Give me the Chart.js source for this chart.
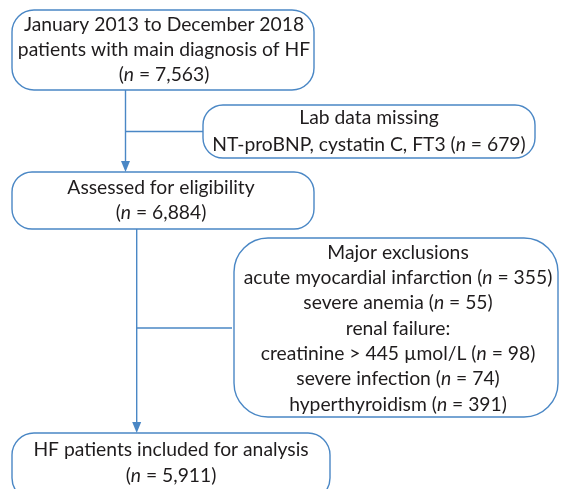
<!DOCTYPE html>
<html>
<head>
<meta charset="utf-8">
<script src="https://cdn.jsdelivr.net/npm/chart.js@4.4.0/dist/chart.umd.min.js"></script>
<style>
    html, body { margin: 0; padding: 0; background: #fff; }
    #wrap { width: 562px; height: 489px; }
</style>
</head>
<body>
<div id="wrap"><canvas id="chart"></canvas></div>
<script>
// box texts (*n* = italic n)
var startText = ['January 2013 to December 2018', 'patients with main diagnosis of HF', '(*n* = 7,563)'];
var missingText = ['Lab data missing', 'NT-proBNP, cystatin C, FT3 (*n* = 679)'];
var assessedText = ['Assessed for eligibility', '(*n* = 6,884)'];
var exclusionText = [
    'Major exclusions',
    'acute myocardial infarction (*n* = 355)',
    'severe anemia (*n* = 55)',
    'renal failure:',
    'creatinine > 445 \u00b5mol/L (*n* = 98)',
    'severe infection (*n* = 74)',
    'hyperthyroidism (*n* = 391)'
];
var includedText = ['HF patients included for analysis', '(*n* = 5,911)'];

/*
----------------------------------
     Layout (px on 562x489 axes)
----------------------------------
*/
var boxes = [
    { text: startText,     x0: 12,  y0: 10,  x1: 314, y1: 90,  r: 22, ty: 25,    gap: 25,   cx: 164 },
    { text: missingText,   x0: 203, y0: 105, x1: 535, y1: 158, r: 20, ty: 118,   gap: 26.5, cx: 369 },
    { text: assessedText,  x0: 12,  y0: 172, x1: 314, y1: 229, r: 20, ty: 188,   gap: 25,   cx: 161 },
    { text: exclusionText, x0: 234, y0: 238, x1: 558, y1: 417, r: 34, ty: 252.5, gap: 25.3, cx: 398 },
    { text: includedText,  x0: 12,  y0: 433, x1: 330, y1: 500, r: 22, ty: 450,   gap: 26,   cx: 171 }
];

// connectors: [x0, y0, x1, y1, arrow]
var links = [
    [125.5, 90, 125.5, 172, true],
    [125.5, 131.5, 203, 131.5, false],
    [136.7, 229, 136.7, 433, true],
    [136.7, 328, 232, 328, false]
];

var blue = '#4a87c5';
var ink = '#1f1c1d';
var fontSize = 19.3;
var fontFam = 'Lato, "Open Sans", sans-serif';

function drawRich(ctx, str, cx, cy) {
    var parts = str.split('*');
    var widths = [];
    var total = 0;
    parts.forEach(function (p, i) {
        ctx.font = (i % 2 ? 'italic ' : '') + fontSize + 'px ' + fontFam;
        var w = ctx.measureText(p).width;
        widths.push(w);
        total += w;
    });
    var x = cx - total / 2;
    parts.forEach(function (p, i) {
        ctx.font = (i % 2 ? 'italic ' : '') + fontSize + 'px ' + fontFam;
        ctx.fillText(p, x, cy);
        x += widths[i];
    });
}

const flowPlugin = {
    id: 'flow',
    afterDatasetsDraw(chart) {
        var ctx = chart.ctx;
        var sx = chart.scales.x, sy = chart.scales.y;
        var px = function (v) { return sx.getPixelForValue(v); };
        var py = function (v) { return sy.getPixelForValue(v); };

        ctx.save();
        ctx.strokeStyle = blue;
        ctx.fillStyle = blue;
        ctx.lineWidth = 1.4;

        links.forEach(function (l) {
            var ax = px(l[0]), ay = py(l[1]), bx = px(l[2]), by = py(l[3]);
            ctx.beginPath();
            ctx.moveTo(ax, ay);
            ctx.lineTo(bx, l[4] ? by - 8 : by);
            ctx.stroke();
            if (l[4]) {
                ctx.beginPath();
                ctx.moveTo(bx, by);
                ctx.lineTo(bx - 4.5, by - 11);
                ctx.lineTo(bx + 4.5, by - 11);
                ctx.closePath();
                ctx.fill();
            }
        });

        boxes.forEach(function (b) {
            ctx.beginPath();
            ctx.roundRect(px(b.x0), py(b.y0), px(b.x1) - px(b.x0), py(b.y1) - py(b.y0), b.r);
            ctx.fillStyle = '#fff';
            ctx.fill();
            ctx.strokeStyle = blue;
            ctx.stroke();

            ctx.fillStyle = ink;
            ctx.textBaseline = 'middle';
            b.text.forEach(function (t, i) {
                drawRich(ctx, t, px(b.cx), py(b.ty + i * b.gap));
            });
        });
        ctx.restore();
    }
};

new Chart(document.getElementById('chart'), {
    type: 'scatter',
    data: { datasets: [{ data: [] }] },
    options: {
        responsive: true,
        maintainAspectRatio: false,
        animation: false,
        layout: { padding: 0 },
        plugins: { legend: { display: false }, tooltip: { enabled: false } },
        scales: {
            x: { type: 'linear', min: 0, max: 562, display: false },
            y: { type: 'linear', min: 0, max: 489, reverse: true, display: false }
        }
    },
    plugins: [flowPlugin]
});
</script>
</body>
</html>
